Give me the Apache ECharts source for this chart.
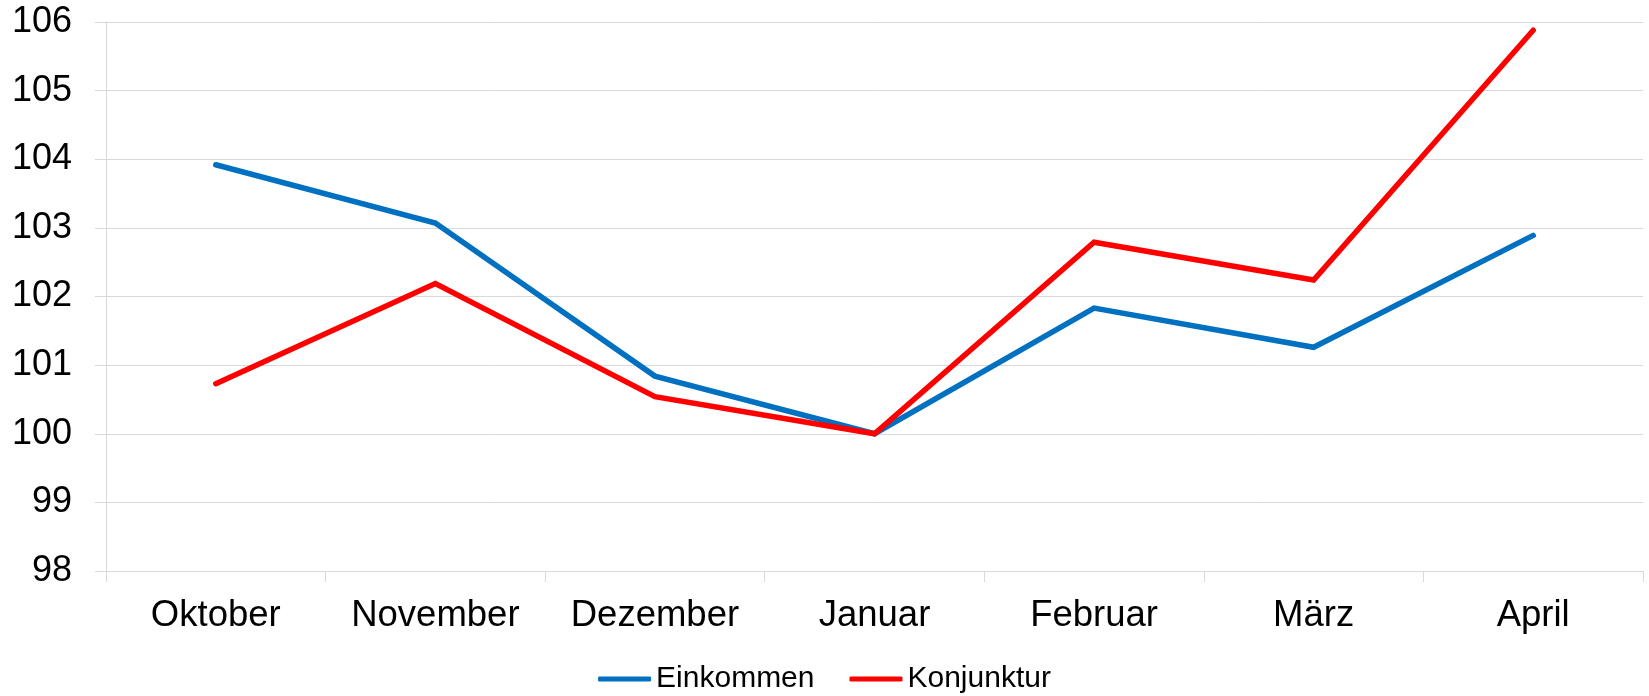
<!DOCTYPE html>
<html>
<head>
<meta charset="utf-8">
<script src="https://cdn.jsdelivr.net/npm/echarts@6/dist/echarts.min.js"></script>
<style>
html,body{margin:0;padding:0;background:#fff;}
#c{width:1649px;height:696px;}
</style>
</head>
<body>
<div id="c"></div>
<script>
var categories = ['Oktober','November','Dezember','Januar','Februar','März','April'];
var einkommen = [103.92, 103.07, 100.84, 100.0, 101.83, 101.26, 102.89];
var konjunktur = [100.73, 102.19, 100.54, 100.0, 102.79, 102.24, 105.88];
var seriesNames = ['Einkommen','Konjunktur'];
var yMin = 98, yMax = 106, yStep = 1;

var chart = echarts.init(document.getElementById('c'), null, {renderer:'canvas'});
var font = '"Liberation Sans", Arial, sans-serif';
var grey = '#d9d9d9';
chart.setOption({
  animation:false,
  backgroundColor:'#ffffff',
  grid:{left:106,right:6,top:22,bottom:125,containLabel:false},
  legend:{
    data:seriesNames,
    top:659,
    left:'center',
    itemWidth:53,
    itemHeight:5,
    itemGap:35,
    icon:'roundRect',
    textStyle:{fontFamily:font,fontSize:30,color:'#000'}
  },
  xAxis:{
    type:'category',
    data:categories,
    boundaryGap:true,
    axisLine:{show:true,lineStyle:{color:grey,width:1}},
    axisTick:{show:true,interval:0,length:11,lineStyle:{color:grey,width:1}},
    axisLabel:{fontFamily:font,fontSize:36.5,color:'#000',margin:26,interval:0},
    splitLine:{show:false}
  },
  yAxis:{
    type:'value',
    min:yMin,max:yMax,interval:yStep,
    axisLine:{show:true,lineStyle:{color:grey,width:1}},
    axisTick:{show:true,length:11,lineStyle:{color:grey,width:1}},
    axisLabel:{fontFamily:font,fontSize:36,color:'#000',margin:34},
    splitLine:{show:true,lineStyle:{color:grey,width:1}}
  },
  series:[
    {name:seriesNames[0],type:'line',data:einkommen,symbol:'none',lineStyle:{color:'#0070C0',width:5.5,cap:'round',join:'miter'},itemStyle:{color:'#0070C0'}},
    {name:seriesNames[1],type:'line',data:konjunktur,symbol:'none',lineStyle:{color:'#FF0000',width:5.5,cap:'round',join:'miter'},itemStyle:{color:'#FF0000'}}
  ]
});
</script>
</body>
</html>
